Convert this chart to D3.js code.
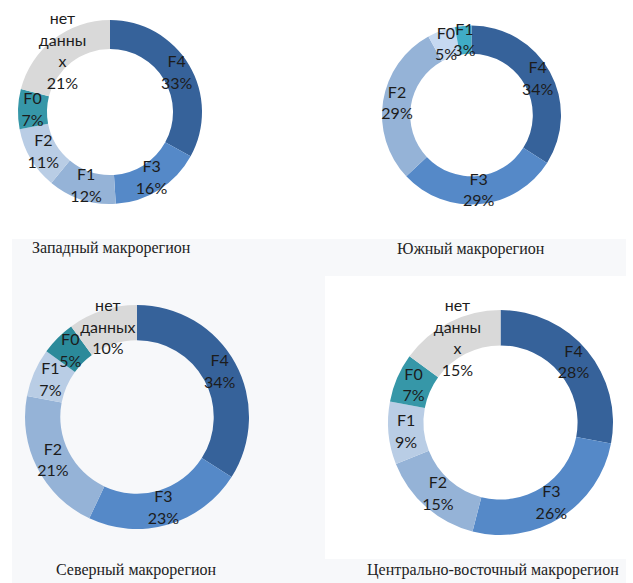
<!DOCTYPE html>
<html lang="ru">
<head>
<meta charset="UTF-8">
<title>Макрорегионы</title>
<style>
  body { margin: 0; background: #fff; }
  .lbl { font-family: Lato, "Open Sans", sans-serif; font-size: 16px; fill: #1c1c1c; }
  .cap { font-family: "Liberation Serif", serif; font-size: 16px; fill: #222; }
</style>
</head>
<body>
<div id="chart"></div>
<script src="https://d3js.org/d3.v7.min.js"></script>
<script>
const regions = ['Западный макрорегион', 'Южный макрорегион', 'Северный макрорегион', 'Центрально-восточный макрорегион']

const westCats = ['F4', 'F3', 'F1', 'F2', 'F0', 'нет\nданны\nх']
const westVals = [33, 16, 12, 11, 7, 21]
const southCats = ['F4', 'F3', 'F2', 'F0', 'F1']
const southVals = [34, 29, 29, 5, 3]
const northCats = ['F4', 'F3', 'F2', 'F1', 'F0', 'нет\nданных']
const northVals = [34, 23, 21, 7, 5, 10]
const centerCats = ['F4', 'F3', 'F2', 'F1', 'F0', 'нет\nданны\nх']
const centerVals = [28, 26, 15, 9, 7, 15]

const width = 633
const height = 583
const lineH = 21.5

const palette = ['#36629a', '#5589c8', '#95b3d7', '#b9cde5', '#3697a8', '#d9d9d9']
const southPalette = ['#36629a', '#5589c8', '#95b3d7', '#c6d9f1', '#40acc6']
const northPalette = ['#36629a', '#5589c8', '#95b3d7', '#b9cde5', '#2b8a9a', '#d9d9d9']

// layout of each panel: donut centre/radius and caption spot
const panels = [
    { cats: westCats, vals: westVals, cx: 110, cy: 112, R: 92, colors: palette, capX: 32, capY: 253 },
    { cats: southCats, vals: southVals, cx: 471.5, cy: 115, R: 89.5, colors: southPalette, capX: 397, capY: 254 },
    { cats: northCats, vals: northVals, cx: 137, cy: 417, R: 112, colors: northPalette, capX: 56, capY: 575 },
    { cats: centerCats, vals: centerVals, cx: 500.5, cy: 422.5, R: 112.5, colors: palette, capX: 367, capY: 575 }
]

const svg = d3.select('#chart')
    .append('svg')
    .attr('width', width)
    .attr('height', height)

// background pieces of the original composite
svg.append('rect').attr('x', 12).attr('y', 239).attr('width', 614).attr('height', height - 239).attr('fill', '#f7f8fa')
svg.append('rect').attr('x', 325).attr('y', 276).attr('width', 301).attr('height', 283).attr('fill', '#fff')

const pie = d3.pie().sort(null).value(d => d.value)

panels.forEach((p, i) => {
    const data = p.cats.map((c, k) => ({ name: c, value: p.vals[k] }))
    const r = p.R * 0.685
    const arc = d3.arc().innerRadius(r).outerRadius(p.R)

    const g = svg.append('g').attr('transform', `translate(${p.cx},${p.cy})`)

    g.selectAll('path')
        .data(pie(data))
        .enter()
        .append('path')
        .attr('d', arc)
        .attr('fill', (d, k) => p.colors[k])

    const labels = g.selectAll('text')
        .data(pie(data))
        .enter()
        .append('text')
        .attr('class', 'lbl')
        .attr('text-anchor', 'middle')
        .attr('transform', d => `translate(${arc.centroid(d)})`)

    labels.each(function (d) {
        const lines = d.data.name.split('\n').concat([d.data.value + '%'])
        const t = d3.select(this)
        lines.forEach((ln, k) => {
            t.append('tspan')
                .attr('x', 0)
                .attr('y', -(lines.length - 1) * lineH / 2 + k * lineH + 5.5)
                .text(ln)
        })
    })

    svg.append('text')
        .attr('class', 'cap')
        .attr('x', p.capX)
        .attr('y', p.capY)
        .text(regions[i])
})
</script>
</body>
</html>
